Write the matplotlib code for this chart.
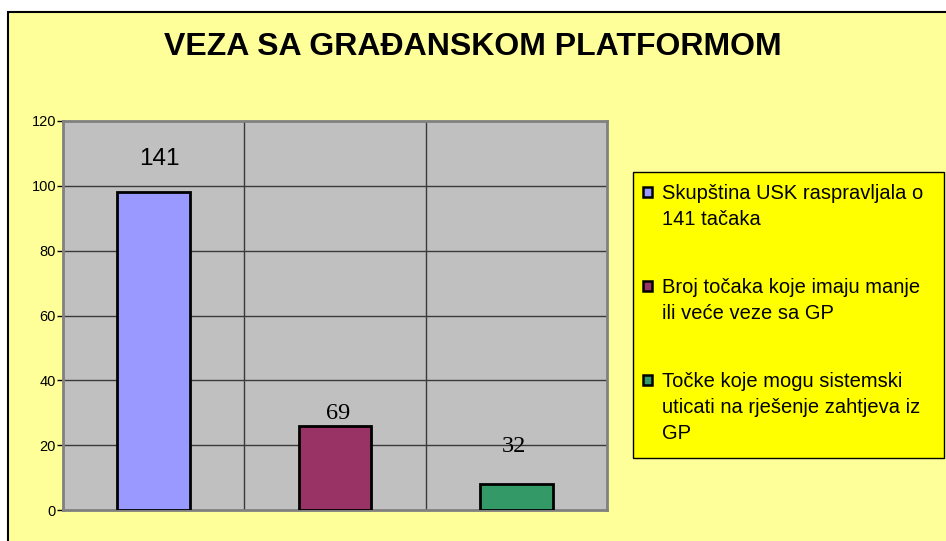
import matplotlib
matplotlib.use("Agg")
import matplotlib.pyplot as plt
from matplotlib.patches import Rectangle

# data
categories = ["Skupština USK raspravljala o\n141 tačaka",
              "Broj točaka koje imaju manje\nili veće veze sa GP",
              "Točke koje mogu sistemski\nuticati na rješenje zahtjeva iz\nGP"]
bar_heights = [98, 26, 8]
bar_labels = ["141", "69", "32"]
label_fonts = ["Liberation Sans", "Liberation Serif", "Liberation Serif"]
label_offsets = [(4, 24), (2, 9), (-2, 27)]   # points from bar top
colors = ["#9999FF", "#993366", "#339966"]
yticks = [0, 20, 40, 60, 80, 100, 120]

W, H = 946, 541
BG = "#FFFF99"

plt.rcParams['font.family'] = ['Liberation Sans', 'DejaVu Sans']

fig = plt.figure(figsize=(W / 100, H / 100), dpi=100)
fig.patch.set_facecolor("white")

# outer chart frame (clipped at right/bottom like the original)
fig.patches.append(Rectangle((8 / W, -0.05), 1.1, 1.05 - 12 / H,
                             transform=fig.transFigure, facecolor=BG,
                             edgecolor="black", lw=1.5, zorder=-10))

ax = fig.add_axes([63 / W, 1 - 510 / H, (607 - 63) / W, (510 - 121) / H])
ax.set_facecolor("#C0C0C0")

x = list(range(len(bar_heights)))
ax.bar(x, bar_heights, width=0.4, color=colors, edgecolor="black",
       linewidth=2, zorder=3)

for xi, h, lab, fnt, off in zip(x, bar_heights, bar_labels, label_fonts, label_offsets):
    ax.annotate(lab, (xi, h), xytext=off, textcoords="offset points",
                ha="center", va="center", fontsize=17.5, family=fnt, color="black")

ax.set_xlim(-0.5, len(bar_heights) - 0.5)
ax.set_ylim(0, 120)
ax.set_yticks(yticks)
ax.set_xticks([])
ax.tick_params(axis="y", direction="out", length=4, width=1, color="black",
               labelsize=10.5, pad=1)

# gridlines
for yv in yticks[1:-1]:
    ax.axhline(yv, color="#3a3a3a", lw=1, zorder=1)
for xv in [0.5, 1.5]:
    ax.axvline(xv, color="#3a3a3a", lw=1, zorder=1)

for s in ax.spines.values():
    s.set_color("#808080")
    s.set_linewidth(2)

fig.text(0.5, 1 - 47 / H, "VEZA SA GRAĐANSKOM PLATFORMOM", ha="center",
         va="center", fontsize=23, fontweight="bold")

# legend drawn by hand so the swatch sits on the first text line
lx0, ly0, lx1, ly1 = 633, 172, 944, 458
fig.patches.append(Rectangle((lx0 / W, 1 - ly1 / H), (lx1 - lx0) / W, (ly1 - ly0) / H,
                             transform=fig.transFigure, facecolor="#FFFF00",
                             edgecolor="black", lw=1))
baselines = [199, 293, 387]
line_step = 26
for base, lab, c in zip(baselines, categories, colors):
    fig.patches.append(Rectangle((643 / W, 1 - (base - 2) / H), 9 / W, 10 / H,
                                 transform=fig.transFigure, facecolor=c,
                                 edgecolor="black", lw=1.8))
    for i, line in enumerate(lab.split("\n")):
        fig.text(662 / W, 1 - (base + i * line_step) / H, line, ha="left",
                 va="baseline", fontsize=14.5)

fig.savefig("out.png", dpi=100, facecolor=fig.get_facecolor())
